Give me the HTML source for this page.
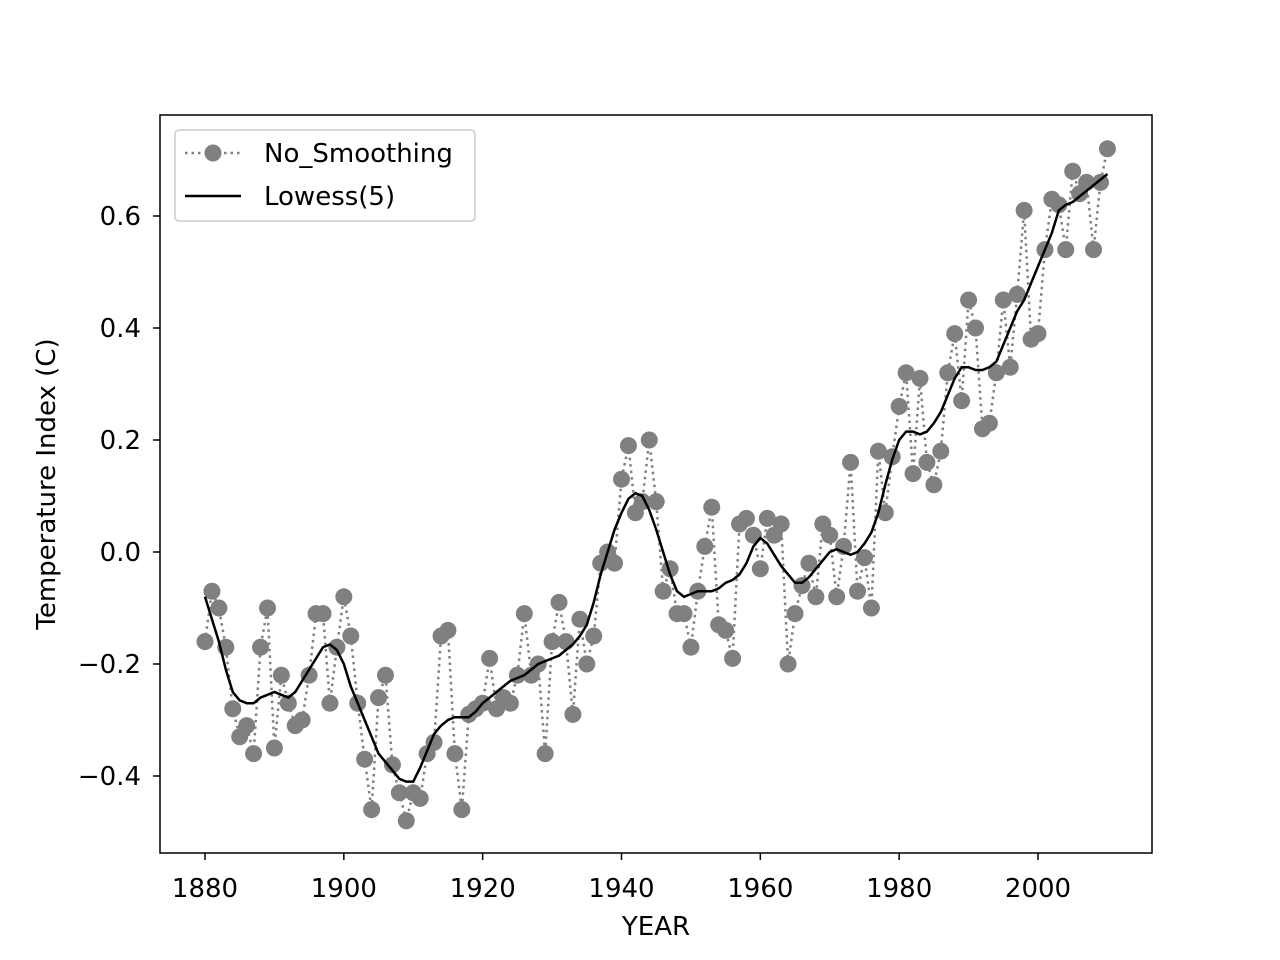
<!DOCTYPE html>
<html><head><meta charset="utf-8"><style>
body{margin:0;background:#fff}
svg{display:block;font-family:"DejaVu Sans","Liberation Sans",sans-serif}
</style></head><body>
<svg id="chart" width="1280" height="960"></svg>
<script>
const years=[];for(let y=1880;y<=2010;y++)years.push(y);
const rawValues=[-0.16,-0.07,-0.10,-0.17,-0.28,-0.33,-0.31,-0.36,-0.17,-0.10,
-0.35,-0.22,-0.27,-0.31,-0.30,-0.22,-0.11,-0.11,-0.27,-0.17,
-0.08,-0.15,-0.27,-0.37,-0.46,-0.26,-0.22,-0.38,-0.43,-0.48,
-0.43,-0.44,-0.36,-0.34,-0.15,-0.14,-0.36,-0.46,-0.29,-0.28,
-0.27,-0.19,-0.28,-0.26,-0.27,-0.22,-0.11,-0.22,-0.20,-0.36,
-0.16,-0.09,-0.16,-0.29,-0.12,-0.20,-0.15,-0.02,0.00,-0.02,
0.13,0.19,0.07,0.09,0.20,0.09,-0.07,-0.03,-0.11,-0.11,
-0.17,-0.07,0.01,0.08,-0.13,-0.14,-0.19,0.05,0.06,0.03,
-0.03,0.06,0.03,0.05,-0.20,-0.11,-0.06,-0.02,-0.08,0.05,
0.03,-0.08,0.01,0.16,-0.07,-0.01,-0.10,0.18,0.07,0.17,
0.26,0.32,0.14,0.31,0.16,0.12,0.18,0.32,0.39,0.27,
0.45,0.40,0.22,0.23,0.32,0.45,0.33,0.46,0.61,0.38,
0.39,0.54,0.63,0.62,0.54,0.68,0.64,0.66,0.54,0.66,0.72];
const lowessValues=[-0.08,-0.12,-0.16,-0.21,-0.25,-0.265,-0.27,-0.27,-0.26,-0.255,
-0.25,-0.255,-0.26,-0.25,-0.23,-0.21,-0.19,-0.17,-0.165,-0.175,
-0.20,-0.24,-0.27,-0.30,-0.33,-0.36,-0.375,-0.39,-0.405,-0.41,
-0.41,-0.385,-0.355,-0.325,-0.31,-0.30,-0.295,-0.295,-0.295,-0.285,
-0.27,-0.26,-0.25,-0.24,-0.23,-0.225,-0.22,-0.21,-0.20,-0.195,
-0.19,-0.185,-0.175,-0.165,-0.15,-0.13,-0.09,-0.04,0.00,0.04,
0.07,0.095,0.105,0.10,0.075,0.04,0.00,-0.04,-0.07,-0.08,
-0.075,-0.07,-0.07,-0.07,-0.065,-0.055,-0.05,-0.04,-0.02,0.01,
0.025,0.015,-0.005,-0.025,-0.04,-0.055,-0.055,-0.045,-0.03,-0.015,
0.00,0.005,0.00,-0.005,0.00,0.015,0.035,0.07,0.12,0.165,
0.20,0.215,0.215,0.21,0.215,0.23,0.25,0.28,0.31,0.33,
0.33,0.325,0.325,0.33,0.34,0.37,0.40,0.43,0.45,0.48,
0.51,0.54,0.57,0.61,0.62,0.625,0.635,0.645,0.655,0.665,0.675];
const xTicks=[1880,1900,1920,1940,1960,1980,2000];
const yTicks=[-0.4,-0.2,0.0,0.2,0.4,0.6];
const yTickLabels=["\u22120.4","\u22120.2","0.0","0.2","0.4","0.6"];

const NS="http://www.w3.org/2000/svg";
const svg=document.getElementById('chart');
const X=v=>205+(v-1880)*(1038-205)/120;
const Y=v=>552-v*560;
function mk(tag,attrs,parent){const e=document.createElementNS(NS,tag);for(const k in attrs)e.setAttribute(k,attrs[k]);(parent||svg).appendChild(e);return e;}

const frame=mk('rect',{x:160,y:115,width:992,height:738,fill:'none',stroke:'#000','stroke-width':1.5});



xTicks.forEach(t=>{
  const l=mk('line',{x1:X(t),x2:X(t),y1:853,y2:860,stroke:'#000','stroke-width':1.5});
  
  
  const tx=mk('text',{x:X(t),y:897,'text-anchor':'middle','font-size':26});
  tx.textContent=t;
  
  
});
yTicks.forEach((t,i)=>{
  const l=mk('line',{x1:153,x2:160,y1:Y(t),y2:Y(t),stroke:'#000','stroke-width':1.5});
  
  
  const tx=mk('text',{x:141,y:Y(t)+9,'text-anchor':'end','font-size':26});
  tx.textContent=yTickLabels[i];
  
  
});
const xt=mk('text',{x:656,y:935,'text-anchor':'middle','font-size':26});
xt.textContent='YEAR';


const yt=mk('text',{x:0,y:0,'text-anchor':'middle','font-size':26,transform:'translate(55,484) rotate(-90)'});
yt.textContent='Temperature Index (C)';



const rawLine=mk('polyline',{points:years.map((y,i)=>X(y)+','+Y(rawValues[i])).join(' '),fill:'none',stroke:'#808080','stroke-width':2.5,'stroke-dasharray':'2.5,4'});


years.forEach((y,i)=>{
  const c=mk('circle',{cx:X(y),cy:Y(rawValues[i]),r:8.5,fill:'#808080'});
  
  
});
const lw=mk('polyline',{points:years.map((y,i)=>X(y)+','+Y(lowessValues[i])).join(' '),fill:'none',stroke:'#000','stroke-width':2.5});



const lg=mk('g',{});


mk('rect',{x:175,y:130,width:300,height:91,rx:4,fill:'#fff','fill-opacity':0.8,stroke:'#ccc','stroke-width':1.5},lg);
mk('line',{x1:185,x2:241,y1:153,y2:153,stroke:'#808080','stroke-width':2.5,'stroke-dasharray':'2.5,4'},lg);
mk('circle',{cx:213,cy:153,r:8.5,fill:'#808080'},lg);
const t1=mk('text',{x:264,y:162,'font-size':26},lg);t1.textContent='No_Smoothing';


mk('line',{x1:185,x2:241,y1:196,y2:196,stroke:'#000','stroke-width':2.5},lg);
const t2=mk('text',{x:264,y:205,'font-size':26},lg);t2.textContent='Lowess(5)';


</script>
</body></html>
